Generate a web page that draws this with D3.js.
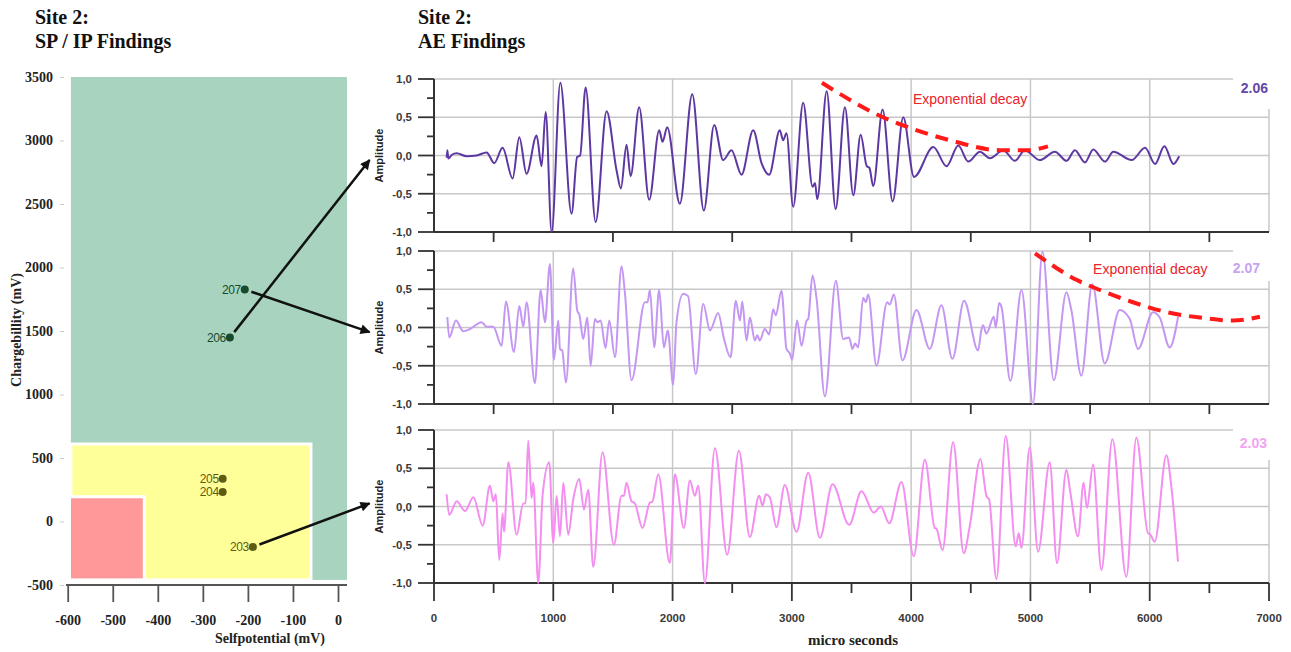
<!DOCTYPE html>
<html>
<head>
<meta charset="utf-8">
<script src="https://cdn.jsdelivr.net/npm/d3@7"></script>
<style>
  body { margin: 0; background: #fff; }
  svg { display: block; }
</style>
</head>
<body>
<svg id="drawing_region"></svg>
<script>
// ---------- SP / IP chart data ----------
const pointLabels = ['203', '204', '205', '206', '207'];
const spValues = [-189, -256, -256, -240, -207];
const ipValues = [-200, 233, 336, 1448, 1827];
const spTicks = [-600, -500, -400, -300, -200, -100, 0];
const ipTicks = [-500, 0, 500, 1000, 1500, 2000, 2500, 3000, 3500];

const zoneNames = ['high', 'medium', 'low'];
const zoneSpMin = [-593, -593, -596];
const zoneSpMax = [20, -60, -430];
const zoneIpMin = [-460, -460, -460];
const zoneIpMax = [3500, 610, 195];

// ---------- AE waveforms ----------
const panelLabels = ['2.06', '2.07', '2.03'];
const arrowFrom = ['206', '207', '203'];

const wave206T = [106, 112, 120, 150, 190, 274, 358, 441, 505, 575, 659, 715, 776, 860, 902, 936, 986, 1059, 1153, 1200, 1225, 1271, 1355, 1447, 1531, 1567, 1614, 1648, 1720, 1804, 1888, 1916, 1955, 2061, 2165, 2262, 2349, 2424, 2494, 2578, 2676, 2746, 2810, 2899, 2927, 2955, 3011, 3095, 3174, 3194, 3213, 3292, 3367, 3445, 3515, 3577, 3628, 3650, 3682, 3761, 3845, 3934, 4024, 4186, 4297, 4395, 4479, 4577, 4661, 4772, 4870, 4953, 5079, 5205, 5303, 5373, 5457, 5527, 5625, 5695, 5849, 5961, 6045, 6123, 6199, 6247];
const wave206A = [-0.03, 0.07, -0.04, 0.01, 0.03, -0.01, 0.0, 0.04, -0.10, 0.10, -0.30, 0.24, -0.24, 0.26, -0.14, 0.57, -1.0, 0.95, -0.76, -0.02, 0.0, 0.89, -0.87, 0.58, -0.2, -0.43, 0.14, -0.27, 0.63, -0.58, 0.33, 0.18, 0.37, -0.63, 0.80, -0.72, 0.40, -0.06, 0.07, -0.25, 0.33, -0.10, -0.25, 0.33, 0.20, 0.29, -0.67, 0.69, -0.41, -0.36, -0.57, 0.84, -0.70, 0.63, -0.52, 0.27, -0.14, -0.16, -0.40, 0.60, -0.60, 0.50, -0.28, 0.11, -0.14, 0.13, -0.08, 0.05, -0.035, 0.07, -0.07, 0.07, -0.06, 0.05, -0.07, 0.07, -0.09, 0.08, -0.08, 0.05, -0.06, 0.10, -0.11, 0.12, -0.11, -0.01];

const wave207T = [112, 128, 184, 246, 302, 399, 441, 497, 567, 603, 670, 715, 749, 776, 846, 894, 930, 972, 1005, 1042, 1056, 1075, 1106, 1167, 1201, 1218, 1251, 1285, 1313, 1349, 1370, 1397, 1438, 1469, 1517, 1572, 1600, 1656, 1768, 1790, 1810, 1846, 1888, 1927, 1960, 2005, 2033, 2089, 2130, 2195, 2257, 2313, 2382, 2430, 2486, 2530, 2565, 2584, 2620, 2648, 2690, 2710, 2731, 2773, 2810, 2843, 2865, 2913, 2955, 2983, 3002, 3044, 3081, 3123, 3137, 3173, 3207, 3277, 3369, 3430, 3480, 3508, 3530, 3556, 3598, 3620, 3640, 3709, 3799, 3821, 3855, 3927, 4045, 4156, 4254, 4346, 4444, 4561, 4589, 4603, 4631, 4693, 4710, 4737, 4757, 4832, 4925, 5022, 5101, 5196, 5302, 5344, 5427, 5519, 5623, 5749, 5833, 5902, 6028, 6084, 6168, 6238];
const wave207A = [0.135, -0.13, 0.09, -0.05, -0.02, 0.07, 0.01, 0.01, -0.24, 0.34, -0.32, 0.28, 0.01, 0.33, -0.73, 0.49, 0.07, 0.83, -0.42, 0.09, -0.28, -0.30, -0.72, 0.77, 0.22, 0.17, -0.15, 0.13, -0.50, 0.11, 0.07, 0.09, -0.27, 0.09, -0.39, 0.80, 0.46, -0.69, 0.33, 0.33, 0.49, -0.26, 0.49, -0.26, -0.04, -0.75, 0.07, 0.44, 0.41, -0.61, 0.31, -0.04, 0.19, -0.14, -0.39, 0.35, 0.09, 0.34, -0.17, 0.13, -0.17, -0.10, -0.17, -0.02, -0.09, 0.24, 0.16, 0.48, -0.28, -0.34, -0.42, 0.09, -0.24, 0.09, 0.11, 0.68, 0.38, -0.90, 0.61, -0.15, -0.13, -0.28, -0.21, -0.26, 0.39, 0.33, 0.43, -0.50, 0.33, 0.30, 0.43, -0.43, 0.23, -0.28, 0.29, -0.41, 0.35, -0.30, -0.03, 0.03, -0.08, 0.14, 0.0, 0.32, 0.27, -0.70, 0.49, -1.0, 0.99, -0.69, 0.46, 0.22, -0.63, 0.57, -0.47, 0.23, 0.11, -0.28, 0.20, 0.13, -0.26, 0.14];

const wave203T = [106, 128, 190, 260, 330, 408, 469, 497, 519, 547, 575, 587, 623, 693, 748, 768, 790, 818, 832, 874, 911, 966, 1000, 1028, 1056, 1084, 1125, 1168, 1218, 1257, 1293, 1335, 1413, 1508, 1572, 1592, 1614, 1655, 1684, 1748, 1810, 1830, 1880, 1977, 2019, 2095, 2145, 2187, 2215, 2271, 2355, 2458, 2556, 2648, 2726, 2754, 2782, 2815, 2871, 2941, 3039, 3137, 3235, 3341, 3480, 3584, 3687, 3746, 3816, 3919, 4022, 4115, 4198, 4212, 4263, 4352, 4441, 4491, 4581, 4631, 4654, 4715, 4793, 4877, 4902, 4925, 4994, 5064, 5162, 5223, 5302, 5335, 5399, 5446, 5474, 5525, 5595, 5687, 5804, 5888, 5986, 6002, 6042, 6140, 6182, 6237];
const wave203A = [0.16, -0.11, 0.07, -0.06, 0.12, -0.25, 0.27, 0.07, 0.16, -0.70, -0.09, -0.33, 0.58, -0.37, 0.04, 0.04, 0.86, 0.11, 0.31, -1.0, 0.16, 0.58, -0.48, 0.14, -0.39, 0.31, -0.37, 0.10, 0.36, -0.04, 0.22, -0.79, 0.71, -0.50, 0.14, 0.14, 0.31, 0.07, 0.04, -0.28, 0.05, 0.06, 0.42, -0.74, 0.42, -0.28, 0.34, 0.14, 0.27, -1.0, 0.76, -0.63, 0.73, -0.40, 0.14, 0.01, 0.16, 0.12, -0.27, 0.28, -0.33, 0.44, -0.41, 0.29, -0.24, 0.20, -0.08, 0.0, -0.22, 0.32, -0.65, 0.61, -0.28, -0.29, -0.57, 0.84, -0.61, -0.26, 0.62, 0.14, 0.09, -0.95, 0.92, -0.52, -0.35, -0.54, 0.77, -0.59, 0.58, -0.74, 0.48, 0.18, -0.39, 0.31, -0.02, 0.55, -0.83, 0.88, -0.92, 0.90, -0.35, -0.36, -0.46, 0.67, 0.25, -0.72];

// exponential decay guides (panels 2.06 and 2.07)
const decay206T = [3252, 3764, 3990, 4325, 4744, 4971, 5147];
const decay206A = [0.95, 0.50, 0.36, 0.20, 0.07, 0.07, 0.12];
const decay207T = [5038, 5390, 5583, 5859, 6144, 6421, 6697, 6924];
const decay207A = [0.97, 0.62, 0.49, 0.33, 0.20, 0.13, 0.09, 0.14];
const decayLabelT = [4015, 5525];
const decayLabelA = [0.67, 0.70];

const timeTicks = [0, 1000, 2000, 3000, 4000, 5000, 6000, 7000];
const timeMinorTicks = [500, 1500, 2500, 3500, 4500, 5500, 6500];
const ampTicks = [-1, -0.5, 0, 0.5, 1];
const ampMinorTicks = [-0.75, -0.25, 0.25, 0.75];

// arrow targets, relative to each AE panel (time, amplitude)
const arrowTargetT = [-540, -540, -540];
const arrowTargetA = [-0.06, -0.06, 0.04];

const waves = [
  { t: wave206T, a: wave206A },
  { t: wave207T, a: wave207A },
  { t: wave203T, a: wave203A }
];
const decays = [
  { t: decay206T, a: decay206A },
  { t: decay207T, a: decay207A },
  null
];

// ---------- styles ----------
const zoneColors = { high: '#a8d4bf', medium: '#ffff99', low: '#ff9898' };
const lineColors = ['#5e38a2', '#c497f3', '#f48ef0'];
const labelColors = ['#6447a8', '#c8a2f2', '#f3a3ef'];
const pointColors = ['#5e5c12', '#5e5c12', '#5e5c12', '#164a2c', '#164a2c'];
const serif = '"Liberation Serif", "Times New Roman", serif';
const sans = '"Liberation Sans", Arial, sans-serif';
const plain = d => String(d);   // hyphen minus, no thousands separator

const svg = d3.select('#drawing_region')
    .attr('width', 1291)
    .attr('height', 652);

svg.append('rect').attr('width', 1291).attr('height', 652).attr('fill', '#fff');

svg.append('defs').append('marker')
    .attr('id', 'arrow')
    .attr('viewBox', '0 0 10 10')
    .attr('refX', 9).attr('refY', 5)
    .attr('markerUnits', 'userSpaceOnUse')
    .attr('markerWidth', 13).attr('markerHeight', 10)
    .attr('orient', 'auto')
  .append('path')
    .attr('d', 'M0,0 L10,5 L0,10 Z')
    .attr('fill', '#111');

// ---------- titles ----------
[[35, 'SP / IP Findings'], [418, 'AE Findings']].forEach(([x, sub]) => {
  const t = svg.append('text')
      .attr('x', x)
      .attr('font-family', serif)
      .attr('font-weight', 'bold')
      .attr('font-size', 20)
      .attr('fill', '#111');
  t.append('tspan').attr('x', x).attr('y', 24).text('Site 2:');
  t.append('tspan').attr('x', x).attr('y', 48).text(sub);
});

// ---------- SP / IP chart ----------
const spScale = d3.scaleLinear().domain([-600, 0]).range([67.7, 338]);
const ipScale = d3.scaleLinear().domain([-500, 3500]).range([585, 77]);

svg.append('g').selectAll('rect')
  .data(zoneNames)
  .join('rect')
    .attr('x', (d, i) => spScale(zoneSpMin[i]))
    .attr('y', (d, i) => ipScale(zoneIpMax[i]))
    .attr('width', (d, i) => spScale(zoneSpMax[i]) - spScale(zoneSpMin[i]))
    .attr('height', (d, i) => ipScale(zoneIpMin[i]) - ipScale(zoneIpMax[i]))
    .attr('fill', d => zoneColors[d])
    .attr('stroke', (d, i) => i === 0 ? 'none' : '#fff')
    .attr('stroke-width', 3);

// x axis
const xAxisG = svg.append('g')
    .attr('transform', 'translate(0,585)')
    .call(d3.axisBottom(spScale).tickValues(spTicks).tickFormat(plain)
      .tickSize(17).tickPadding(13).tickSizeOuter(0));
xAxisG.select('.domain').remove();
xAxisG.append('line').attr('x1', 66).attr('x2', 347).attr('stroke', '#555').attr('stroke-width', 1.8);
xAxisG.selectAll('.tick line').attr('stroke', '#555').attr('stroke-width', 1.8);
xAxisG.selectAll('.tick text')
    .attr('font-family', serif).attr('font-weight', 'bold').attr('font-size', 14).attr('fill', '#222');

// y axis
const yAxisG = svg.append('g')
    .attr('transform', 'translate(64,0)')
    .call(d3.axisLeft(ipScale).tickValues(ipTicks).tickFormat(plain).tickSize(4).tickPadding(7));
yAxisG.select('.domain').remove();
yAxisG.selectAll('.tick line').attr('stroke', '#ccc');
yAxisG.selectAll('.tick text')
    .attr('font-family', serif).attr('font-weight', 'bold').attr('font-size', 14).attr('fill', '#222');

svg.append('text')
    .attr('x', 270).attr('y', 643)
    .attr('text-anchor', 'middle')
    .attr('font-family', serif).attr('font-weight', 'bold').attr('font-size', 14)
    .attr('fill', '#222')
    .text('Selfpotential (mV)');

svg.append('text')
    .attr('transform', 'translate(21,330) rotate(-90)')
    .attr('text-anchor', 'middle')
    .attr('font-family', serif).attr('font-weight', 'bold').attr('font-size', 14)
    .attr('fill', '#222')
    .text('Chargebillity (mV)');

// points
const pts = svg.append('g');
pts.selectAll('circle')
  .data(pointLabels)
  .join('circle')
    .attr('cx', (d, i) => spScale(spValues[i]))
    .attr('cy', (d, i) => ipScale(ipValues[i]))
    .attr('r', 4)
    .attr('fill', (d, i) => pointColors[i]);
pts.selectAll('text')
  .data(pointLabels)
  .join('text')
    .attr('x', (d, i) => spScale(spValues[i]) - 4)
    .attr('y', (d, i) => ipScale(ipValues[i]))
    .attr('dy', '0.36em')
    .attr('text-anchor', 'end')
    .attr('font-family', sans).attr('font-size', 12)
    .attr('letter-spacing', -0.4)
    .attr('fill', (d, i) => pointColors[i])
    .text(d => d);

// ---------- AE panels ----------
const tScale = d3.scaleLinear().domain([0, 7000]).range([434, 1269]);
const panelTops = [79, 251, 430];
const panelH = 153;
const labelOffsets = [14, 22, 18];
const labelRight = [1268, 1260, 1267];

panelTops.forEach((top, p) => {
  const aScale = d3.scaleLinear().domain([-1, 1]).range([top + panelH, top]);
  const g = svg.append('g');
  const bottom = top + panelH;

  // grid
  g.selectAll('.vgrid')
    .data(timeTicks.slice(1))
    .join('line')
      .attr('x1', d => tScale(d)).attr('x2', d => tScale(d))
      .attr('y1', top).attr('y2', bottom)
      .attr('stroke', '#c8c8c8').attr('stroke-width', 1.5);
  g.selectAll('.hgrid')
    .data(ampTicks.slice(1))
    .join('line')
      .attr('x1', tScale(0)).attr('x2', tScale(7000))
      .attr('y1', d => aScale(d)).attr('y2', d => aScale(d))
      .attr('stroke', '#c8c8c8').attr('stroke-width', 1.5);

  // blank area behind the panel label
  g.append('rect')
      .attr('x', 1233).attr('y', top - 12)
      .attr('width', 60).attr('height', 42)
      .attr('fill', '#fff');

  // axes
  g.append('line')
      .attr('x1', tScale(0)).attr('x2', tScale(0))
      .attr('y1', top).attr('y2', bottom)
      .attr('stroke', '#333').attr('stroke-width', 2);
  g.append('line')
      .attr('x1', tScale(0)).attr('x2', tScale(7000))
      .attr('y1', bottom).attr('y2', bottom)
      .attr('stroke', '#333').attr('stroke-width', 2);
  g.selectAll('.ymaj')
    .data(ampTicks)
    .join('line')
      .attr('x1', tScale(0) - 16).attr('x2', tScale(0))
      .attr('y1', d => aScale(d)).attr('y2', d => aScale(d))
      .attr('stroke', '#333').attr('stroke-width', 1.8);
  g.selectAll('.ymin')
    .data(ampMinorTicks)
    .join('line')
      .attr('x1', tScale(0) - 7).attr('x2', tScale(0))
      .attr('y1', d => aScale(d)).attr('y2', d => aScale(d))
      .attr('stroke', '#333').attr('stroke-width', 1.8);
  g.selectAll('.ylab')
    .data(ampTicks)
    .join('text')
      .attr('x', 412)
      .attr('y', d => aScale(d))
      .attr('dy', '0.36em')
      .attr('text-anchor', 'end')
      .attr('font-family', sans).attr('font-weight', 'bold').attr('font-size', 11.5)
      .attr('fill', '#3a3a3a')
      .text(d => d.toFixed(1).replace('.', ','));
  g.selectAll('.xmin')
    .data(timeMinorTicks)
    .join('line')
      .attr('x1', d => tScale(d)).attr('x2', d => tScale(d))
      .attr('y1', bottom).attr('y2', bottom + 10)
      .attr('stroke', '#333').attr('stroke-width', 1.8);

  if (p === panelTops.length - 1) {
    g.selectAll('.xmaj')
      .data(timeTicks)
      .join('line')
        .attr('x1', d => tScale(d)).attr('x2', d => tScale(d))
        .attr('y1', bottom).attr('y2', bottom + 18)
        .attr('stroke', '#333').attr('stroke-width', 1.8);
    g.selectAll('.xlab')
      .data(timeTicks)
      .join('text')
        .attr('x', d => tScale(d))
        .attr('y', 622)
        .attr('text-anchor', 'middle')
        .attr('font-family', sans).attr('font-weight', 'bold').attr('font-size', 11.5)
        .attr('fill', '#3a3a3a')
        .text(plain);
  }

  g.append('text')
      .attr('transform', `translate(383,${top + panelH / 2}) rotate(-90)`)
      .attr('text-anchor', 'middle')
      .attr('font-family', sans).attr('font-weight', 'bold').attr('font-size', 11)
      .attr('fill', '#222')
      .text('Amplitude');

  // waveform
  const w = waves[p];
  const line = d3.line()
      .x(i => tScale(w.t[i]))
      .y(i => aScale(w.a[i]))
      .curve(d3.curveMonotoneX);
  g.append('path')
      .attr('d', line(d3.range(w.t.length)))
      .attr('fill', 'none')
      .attr('stroke', lineColors[p])
      .attr('stroke-width', 2)
      .attr('stroke-linejoin', 'round');

  // decay guide
  const dc = decays[p];
  if (dc) {
    const dl = d3.line()
        .x(i => tScale(dc.t[i]))
        .y(i => aScale(dc.a[i]))
        .curve(d3.curveMonotoneX);
    g.append('path')
        .attr('d', dl(d3.range(dc.t.length)))
        .attr('fill', 'none')
        .attr('stroke', '#ff1a1a')
        .attr('stroke-width', 4)
        .attr('stroke-dasharray', '13,8');
    g.append('text')
        .attr('x', tScale(decayLabelT[p]))
        .attr('y', aScale(decayLabelA[p]))
        .attr('font-family', sans).attr('font-size', 14)
        .attr('fill', '#e8232a')
        .text('Exponential decay');
  }

  // panel label
  g.append('text')
      .attr('x', labelRight[p])
      .attr('y', top + labelOffsets[p])
      .attr('text-anchor', 'end')
      .attr('font-family', sans).attr('font-weight', 'bold').attr('font-size', 14)
      .attr('fill', labelColors[p])
      .text(panelLabels[p]);

  // arrow from SP/IP point to the panel
  const k = pointLabels.indexOf(arrowFrom[p]);
  const x0 = spScale(spValues[k]), y0 = ipScale(ipValues[k]);
  const x1 = tScale(arrowTargetT[p]), y1 = aScale(arrowTargetA[p]);
  const len = Math.hypot(x1 - x0, y1 - y0);
  svg.append('line')
      .attr('x1', x0 + (x1 - x0) / len * 7)
      .attr('y1', y0 + (y1 - y0) / len * 7)
      .attr('x2', x1).attr('y2', y1)
      .attr('stroke', '#111').attr('stroke-width', 2.5)
      .attr('marker-end', 'url(#arrow)');
});

svg.append('text')
    .attr('x', 853).attr('y', 645)
    .attr('text-anchor', 'middle')
    .attr('font-family', serif).attr('font-weight', 'bold').attr('font-size', 15)
    .attr('fill', '#222')
    .text('micro seconds');
</script>
</body>
</html>
